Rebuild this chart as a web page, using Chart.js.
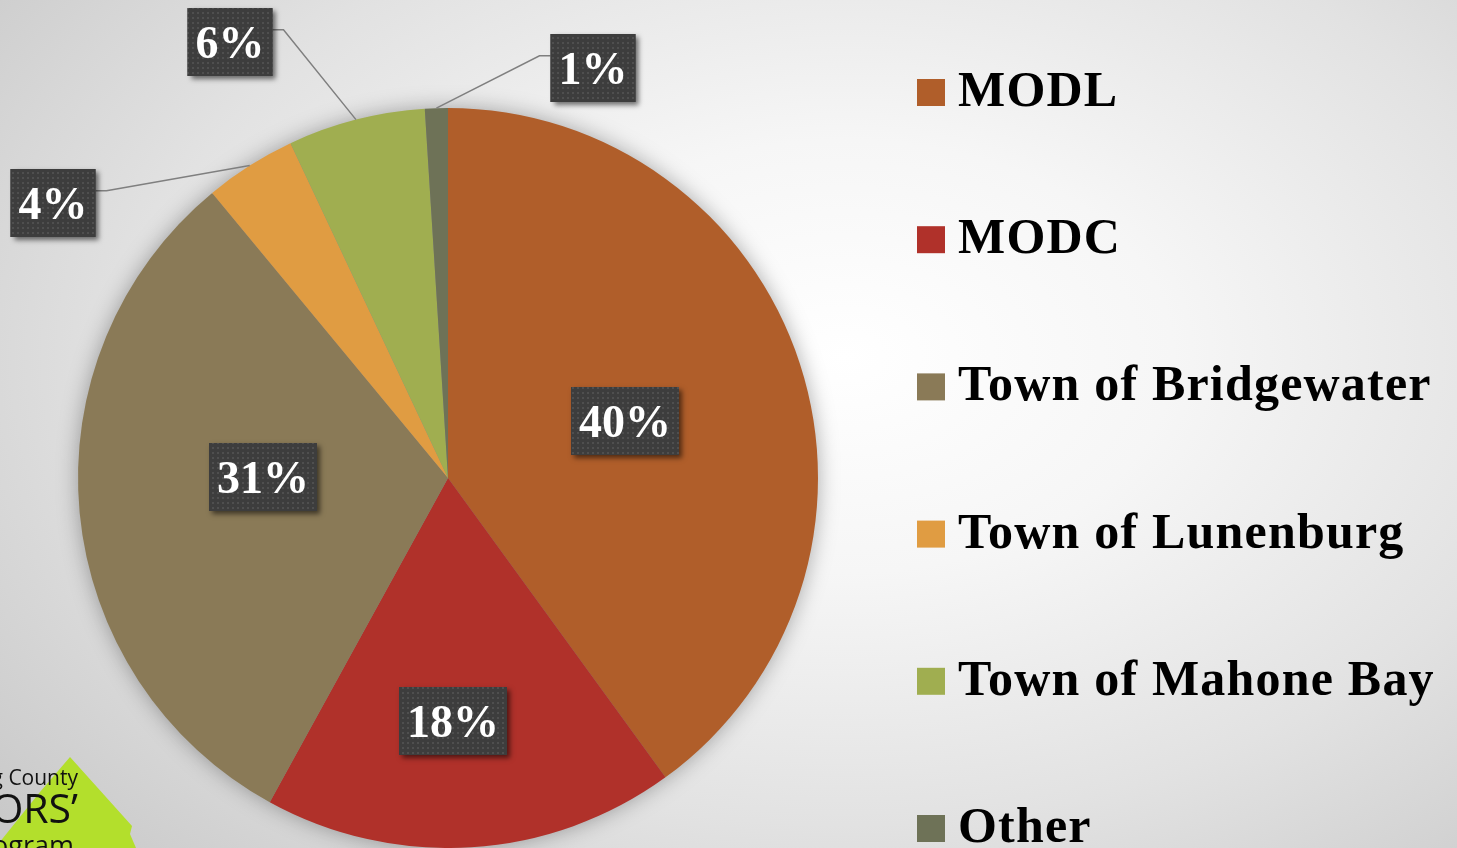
<!DOCTYPE html>
<html>
<head>
<meta charset="utf-8">
<script src="https://cdn.jsdelivr.net/npm/chart.js@4.4.1/dist/chart.umd.min.js"></script>
<style>
  html, body { margin: 0; padding: 0; width: 1457px; height: 848px; overflow: hidden; }
  body { background: radial-gradient(ellipse 75% 85% at 58% 42%, #ffffff 0%, #f6f6f6 30%, #e2e2e2 65%, #c9c9c9 100%); }
  #c { display: block; }
</style>
</head>
<body>
<canvas id="c" width="1457" height="848"></canvas>
<script>
// ---- data ----
const categories = ['MODL', 'MODC', 'Town of Bridgewater', 'Town of Lunenburg', 'Town of Mahone Bay', 'Other'];
const shares = [40, 18, 31, 4, 6, 1];
const percentLabels = ['40%', '18%', '31%', '4%', '6%', '1%'];

// ---- styles ----
const sliceColors = ['#B05E2A', '#B0312A', '#8A7A57', '#E09C42', '#A0AE50', '#6E7257'];
// label box centre offsets from the pie centre (leader lines for the outside ones)
const labelPlacement = [
  { inside: true,  dx: 177,  dy: -57 },
  { inside: true,  dx: 5,    dy: 243 },
  { inside: true,  dx: -185, dy: -1 },
  { inside: false, dx: -395, dy: -275 },
  { inside: false, dx: -218, dy: -436 },
  { inside: false, dx: 145,  dy: -410 }
];

const SERIF = '"Liberation Serif", "DejaVu Serif", serif';

function makePattern(ctx) {
  const p = document.createElement('canvas');
  p.width = 5; p.height = 5;
  const pc = p.getContext('2d');
  pc.fillStyle = '#3d3d3d';
  pc.fillRect(0, 0, 5, 5);
  pc.fillStyle = '#4f4f4f';
  pc.fillRect(2, 2, 2, 2);
  return ctx.createPattern(p, 'repeat');
}

const backdropPlugin = {
  id: 'backdrop',
  beforeDatasetsDraw(chart) {
    const ctx = chart.ctx;
    // partial logo in lower-left corner
    ctx.save();
    ctx.fillStyle = '#B3DF2C';
    ctx.beginPath();
    ctx.moveTo(70, 757);
    ctx.lineTo(132, 826);
    ctx.lineTo(130, 834);
    ctx.lineTo(136, 848);
    ctx.lineTo(-5, 848);
    ctx.lineTo(40, 792);
    ctx.closePath();
    ctx.fill();
    ctx.fillStyle = '#111';
    ctx.textAlign = 'right';
    ctx.textBaseline = 'alphabetic';
    ctx.font = '21px "Open Sans", sans-serif';
    ctx.fillText('Lunenburg County', 78, 785);
    ctx.font = '41px "Open Sans", sans-serif';
    ctx.fillText('VISITORS\u2019', 78, 823);
    ctx.font = '27px "Open Sans", sans-serif';
    ctx.fillText('Program', 74, 855);
    ctx.restore();

    // soft shadow under the pie
    const arc = chart.getDatasetMeta(0).data[0];
    ctx.save();
    ctx.shadowColor = 'rgba(0,0,0,0.35)';
    ctx.shadowBlur = 22;
    ctx.fillStyle = '#8a8a8a';
    ctx.beginPath();
    ctx.arc(arc.x, arc.y, arc.outerRadius - 1, 0, Math.PI * 2);
    ctx.fill();
    ctx.restore();
  }
};

const labelPlugin = {
  id: 'boxLabels',
  afterDatasetsDraw(chart) {
    const ctx = chart.ctx;
    const meta = chart.getDatasetMeta(0);
    const pattern = makePattern(ctx);
    ctx.save();
    ctx.font = 'bold 46px ' + SERIF;
    meta.data.forEach((arc, i) => {
      const pl = labelPlacement[i];
      const mid = (arc.startAngle + arc.endAngle) / 2;
      const R = arc.outerRadius;
      const cx = arc.x + pl.dx;
      const cy = arc.y + pl.dy;
      const txt = percentLabels[i];
      const m = ctx.measureText(txt);
      const w = m.width + 16, h = 68;
      const bx = cx - w / 2, by = cy - h / 2;

      if (!pl.inside) {
        const ex = arc.x + Math.cos(mid) * R;
        const ey = arc.y + Math.sin(mid) * R;
        const ly = by + h * 0.32;
        const sx = ex > cx ? bx + w : bx;
        const kx = ex > cx ? sx + 11 : sx - 11;
        ctx.save();
        ctx.strokeStyle = '#7f7f7f';
        ctx.lineWidth = 1.5;
        ctx.beginPath();
        ctx.moveTo(sx, ly);
        ctx.lineTo(kx, ly);
        ctx.lineTo(ex, ey);
        ctx.stroke();
        ctx.restore();
      }

      ctx.save();
      ctx.shadowColor = 'rgba(0,0,0,0.55)';
      ctx.shadowBlur = 5;
      ctx.shadowOffsetX = 3;
      ctx.shadowOffsetY = 3;
      ctx.fillStyle = '#3d3d3d';
      ctx.fillRect(bx, by, w, h);
      ctx.restore();
      ctx.fillStyle = pattern;
      ctx.fillRect(bx, by, w, h);

      ctx.fillStyle = '#ffffff';
      ctx.textAlign = 'center';
      ctx.textBaseline = 'alphabetic';
      const asc = m.actualBoundingBoxAscent, desc = m.actualBoundingBoxDescent;
      ctx.fillText(txt, cx, cy + (asc - desc) / 2);
    });
    ctx.restore();
  }
};

const legendPlugin = {
  id: 'sideLegend',
  afterDraw(chart) {
    const ctx = chart.ctx;
    const ds = chart.data.datasets[0];
    ctx.save();
    ctx.font = 'bold 50px ' + SERIF;
    ctx.letterSpacing = '1.2px';
    ctx.textAlign = 'left';
    ctx.textBaseline = 'alphabetic';
    chart.data.labels.forEach((lab, i) => {
      const yc = 92 + i * 147.2;
      ctx.fillStyle = ds.backgroundColor[i];
      ctx.fillRect(917, yc - 13, 28, 27);
      ctx.fillStyle = '#000';
      ctx.fillText(lab, 958, yc + 14);
    });
    ctx.restore();
  }
};

new Chart(document.getElementById('c'), {
  type: 'pie',
  data: {
    labels: categories,
    datasets: [{
      data: shares,
      backgroundColor: sliceColors,
      borderWidth: 0
    }]
  },
  options: {
    responsive: false,
    animation: false,
    rotation: 0,
    layout: { padding: { left: 78, right: 639, top: 108, bottom: 0 } },
    plugins: {
      legend: { display: false },
      tooltip: { enabled: false }
    }
  },
  plugins: [backdropPlugin, labelPlugin, legendPlugin]
});
</script>
</body>
</html>
